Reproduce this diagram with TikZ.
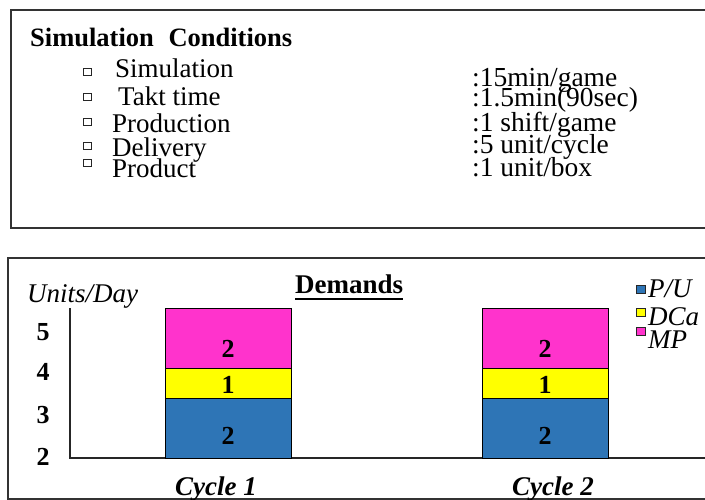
\documentclass[tikz,border=0pt]{standalone}
\usepackage{fontspec}
\setmainfont{Liberation Serif}
\definecolor{puBlue}{HTML}{2E75B6}
\definecolor{dcaYellow}{HTML}{FFFF00}
\definecolor{mpPink}{HTML}{FF33CC}
\definecolor{frameGray}{HTML}{333333}
\begin{document}
\begin{tikzpicture}[x=1pt,y=-1pt,
  frame/.style={draw=frameGray, line width=1.3pt},
  txt/.style={anchor=base west, inner sep=0pt, font=\fontsize{27}{27}\selectfont},
  val/.style={anchor=base west, inner sep=0pt, font=\fontsize{27.5}{27.5}\selectfont},
  boxbullet/.style={draw=black!85, line width=0.8pt, minimum width=8pt, minimum height=6.5pt, inner sep=0pt},
  tick/.style={anchor=base, inner sep=0pt, font=\fontsize{26}{26}\selectfont\bfseries},
  seg/.style={draw=black, line width=1pt},
  seglabel/.style={anchor=base, inner sep=0pt, font=\fontsize{26}{26}\selectfont\bfseries},
  legtxt/.style={anchor=base west, inner sep=0pt, font=\fontsize{27}{27}\selectfont\itshape},
  legbox/.style={draw=black!85, line width=0.8pt, minimum width=9pt, minimum height=8pt, inner sep=0pt},
  cyc/.style={anchor=base west, inner sep=0pt, font=\fontsize{27}{27}\selectfont\bfseries\itshape}]
\useasboundingbox (0,0) rectangle (705,500);

% ---------- conditions panel ----------
\draw[frame] (712,10) -- (11,10) -- (11,228) -- (712,228);
\node[txt, font=\fontsize{26.5}{26.5}\selectfont\bfseries] (title) at (30,47) {Simulation\hspace{8pt} Conditions};

\node[boxbullet] (b1) at (87,72) {};
\node[boxbullet] (b2) at (87,97) {};
\node[boxbullet] (b3) at (87,122) {};
\node[boxbullet] (b4) at (87,146) {};
\node[boxbullet] (b5) at (87,163) {};

\node[txt] (i1) at (115,78) {Simulation};
\node[txt] (i2) at (118,106) {Takt time};
\node[txt] (i3) at (112,133) {Production};
\node[txt] (i4) at (112,157) {Delivery};
\node[txt] (i5) at (112,178) {Product};

\node[val] (v1) at (472,87) {:15min/game};
\node[val] (v2) at (472,107) {:1.5min(90sec)};
\node[val] (v3) at (472,132) {:1 shift/game};
\node[val] (v4) at (472,154) {:5 unit/cycle};
\node[val] (v5) at (472,177) {:1 unit/box};

% ---------- demands chart ----------
\draw[frame] (712,258) -- (8,258) -- (8,499) -- (712,499);

\node[anchor=base west, inner sep=0pt, font=\fontsize{27}{27}\selectfont\itshape] (ylab) at (27,302) {Units/Day};
\node[anchor=base west, inner sep=0pt, font=\fontsize{27}{27}\selectfont\bfseries] (dem) at (295,293) {Demands};
\draw[line width=2pt] ([yshift=-6pt]dem.base west) -- ([yshift=-6pt]dem.base east);

\coordinate (axtop) at (70,308);
\coordinate (axorg) at (70,458);
\coordinate (axend) at (712,458);
\draw[line width=1.2pt, black!85] (axtop) -- (axorg) -- (axend);

\node[tick] (t5) at (43,340) {5};
\node[tick] (t4) at (43,380) {4};
\node[tick] (t3) at (43,423) {3};
\node[tick] (t2) at (43,465) {2};

% stacked bars
\foreach \bx/\nm in {165/one,482/two}{
  \filldraw[seg, fill=puBlue] (\bx,398) rectangle (\bx+126,458);
  \filldraw[seg, fill=dcaYellow] (\bx,368) rectangle (\bx+126,398);
  \filldraw[seg, fill=mpPink] (\bx,308) rectangle (\bx+126,368);
  \node[seglabel] (mp-\nm) at (\bx+63,357) {2};
  \node[seglabel] (dc-\nm) at (\bx+63,393) {1};
  \node[seglabel] (pu-\nm) at (\bx+63,444) {2};
}

\node[cyc] (c1) at (175,495) {Cycle 1};
\node[cyc] (c2) at (512,495) {Cycle 2};

% legend
\node[legbox, fill=puBlue] (lb1) at (641,289) {};
\node[legbox, fill=dcaYellow] (lb2) at (641,312) {};
\node[legbox, fill=mpPink] (lb3) at (641,331) {};
\node[legtxt] (l1) at (648,298) {P/U};
\node[legtxt] (l2) at (648,325) {DCa};
\node[legtxt] (l3) at (648,348) {MP};
\end{tikzpicture}
\end{document}
